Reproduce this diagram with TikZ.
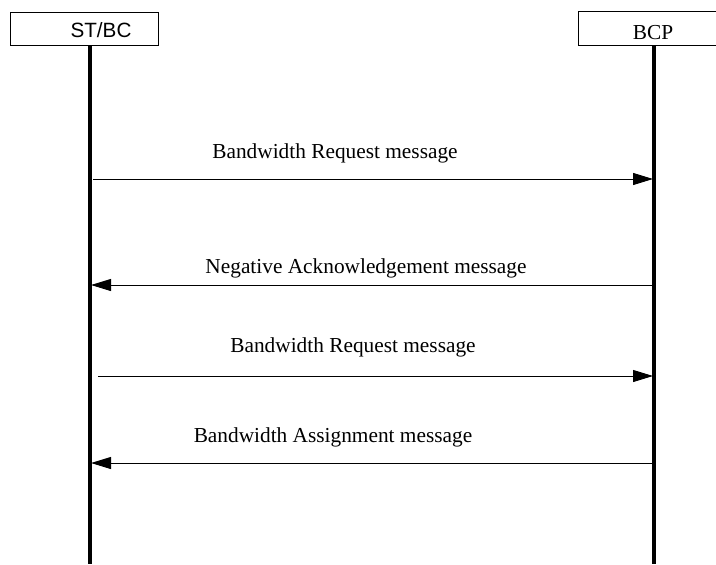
\documentclass[tikz,border=0pt]{standalone}
\usepackage{fontspec}
\setmainfont{Liberation Serif}
\newfontfamily\arialfont{Liberation Sans}
\usepackage{tikz}
\usetikzlibrary{arrows.meta}
\tikzstyle{entity} = [rectangle, draw=black, line width=0.75pt, inner sep=0pt]
\tikzstyle{lifeline} = [line width=2.4pt]
\tikzstyle{msg} = [line width=0.75pt, -{Triangle[length=15pt,width=9pt]}]
\tikzstyle{msglabel} = [font=\fontsize{16}{19}\selectfont, inner sep=0pt]

\begin{document}
\begin{tikzpicture}[x=0.75pt, y=-0.75pt]
				\clip (0,0) rectangle (716,564);

				\node (stbc) [entity, minimum width=111pt, minimum height=24.75pt] at (84,28.5) {};
				\node (stbctxt) [inner sep=0pt, font=\arialfont\fontsize{15.5}{18}\selectfont] at (101,30) {ST/BC};
				\node (bcp) [entity, draw=none, minimum width=120pt, minimum height=24.75pt, anchor=west] at (578,28.5) {};
				\draw [line width=0.75pt] (bcp.north east) -- (bcp.north west) -- (bcp.south west) -- (bcp.south east);
				\node (bcptxt) [inner sep=0pt, font=\fontsize{16}{19}\selectfont] at (653,33) {BCP};

				\coordinate (stbctop) at (90,45);
				\coordinate (stbcbot) at (90,564);
				\coordinate (bcptop) at (654,45);
				\coordinate (bcpbot) at (654,564);
				\draw [lifeline] (stbctop) -- (stbcbot);
				\draw [lifeline] (bcptop) -- (bcpbot);

				\coordinate (req1a) at (93,179);
				\coordinate (req1b) at (653,179);
				\coordinate (nacka) at (654,285);
				\coordinate (nackb) at (91,285);
				\coordinate (req2a) at (98,376);
				\coordinate (req2b) at (653,376);
				\coordinate (assga) at (654,463);
				\coordinate (assgb) at (91,463);

				\node (req1txt) [msglabel] at (335,153) {Bandwidth Request message};
				\node (nacktxt) [msglabel] at (366,268) {Negative Acknowledgement message};
				\node (req2txt) [msglabel] at (353,347) {Bandwidth Request message};
				\node (assgtxt) [msglabel] at (333,437) {Bandwidth Assignment message};

				\draw [msg] (req1a) -- (req1b);
				\draw [msg] (nacka) -- (nackb);
				\draw [msg] (req2a) -- (req2b);
				\draw [msg] (assga) -- (assgb);

\end{tikzpicture}
\end{document}
